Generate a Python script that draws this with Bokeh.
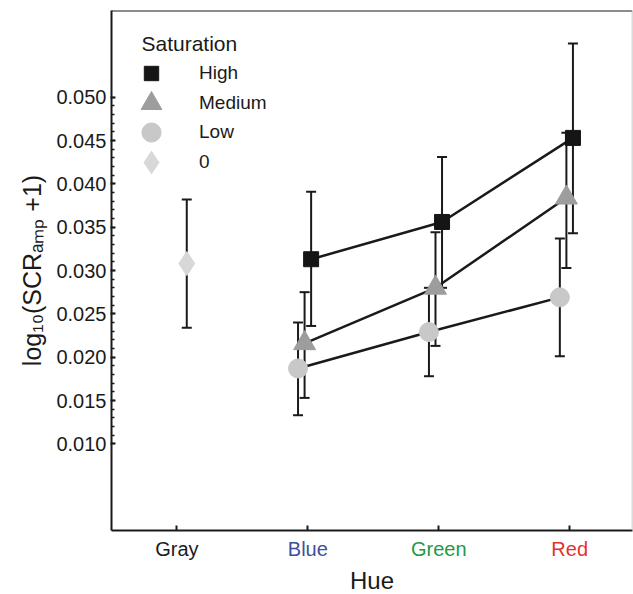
import math
from bokeh.plotting import figure
from bokeh.models import (ColumnDataSource, Whisker, TeeHead, FixedTicker, Legend, LegendItem,
                          Label, Span, NumeralTickFormatter, LinearAxis)
from bokeh.embed import file_html
from bokeh.resources import INLINE

# ---------------- data ----------------
hues = ["Gray", "Blue", "Green", "Red"]
hue_label_colors = ["#1b1b1b", "#3c4fa0", "#1e9a45", "#e3342a"]
chromatic_hues = ["Blue", "Green", "Red"]
gray_hues = ["Gray"]

high_mean = [0.0313, 0.0356, 0.0453]
high_lo = [0.0236, 0.0280, 0.0343]
high_hi = [0.0391, 0.0431, 0.0562]

medium_mean = [0.0216, 0.0280, 0.0384]
medium_lo = [0.0153, 0.0213, 0.0303]
medium_hi = [0.0275, 0.0344, 0.0459]

low_mean = [0.0187, 0.0229, 0.0269]
low_lo = [0.0133, 0.0178, 0.0201]
low_hi = [0.0240, 0.0280, 0.0337]

zero_mean = [0.0308]
zero_lo = [0.0234]
zero_hi = [0.0382]

y_tick_values = [0.010, 0.015, 0.020, 0.025, 0.030, 0.035, 0.040, 0.045, 0.050]
y_minor_values = [round(0.010 + 0.001 * i, 3) for i in range(41)]

y_title = "log\u2081\u2080(SCR\u2090\u2098\u209a +1)"
x_title = "Hue"

# ---------------- layout ----------------
FONT = "Liberation Sans"
INK = "#1a1a1a"
BL, BT, BR, BB = 111, 10, 1, 0
FW, FH = 521, 520
X0, X1 = -0.5, 3.48
Y0, Y1 = 0.0, 0.060
FL, FT = BL, BT
FB = FT + FH
TICK_FS = "20px"
LABEL_H = 25          # approximate measured height of a 20px label
LABEL_GAP = 7


def dx(px):
    return X0 + (px - FL) / FW * (X1 - X0)


def dy(py):
    return Y0 + (FB - py) / FH * (Y1 - Y0)


def sxu(px):  # screen units relative to frame left
    return px - FL


def syu(py):  # screen units relative to frame bottom, upwards
    return FB - py


p = figure(frame_width=FW, frame_height=FH, x_range=(X0, X1), y_range=(Y0, Y1),
           output_backend="svg", toolbar_location=None,
           min_border_left=BL, min_border_top=BT, min_border_right=BR, min_border_bottom=BB)
p.outline_line_color = None
p.xgrid.visible = False
p.ygrid.visible = False

# main x axis: rule, ticks and the first (black) category label
xa = p.xaxis[0]
xa.ticker = FixedTicker(ticks=list(range(len(hues))))
xa.major_label_overrides = {i: (h if i == 0 else "") for i, h in enumerate(hues)}
xa.major_label_text_font = FONT
xa.major_label_text_font_size = TICK_FS
xa.major_label_text_color = hue_label_colors[0]
xa.major_label_standoff = LABEL_GAP
xa.major_tick_in = 5
xa.major_tick_out = 0
xa.major_tick_line_width = 2
xa.major_tick_line_color = INK
xa.minor_tick_line_color = None
xa.axis_line_width = 2
xa.axis_line_color = INK

# the coloured category labels: extra axes pulled back up onto the same row
for i in range(1, len(hues)):
    last = i == len(hues) - 1
    ax = LinearAxis(ticker=FixedTicker(ticks=[i]), major_label_overrides={i: hues[i]},
                    axis_line_color=None, major_tick_line_color=None,
                    minor_tick_line_color=None, major_tick_out=0, major_tick_in=0,
                    major_label_standoff=-LABEL_H, major_label_text_font=FONT,
                    major_label_text_font_size=TICK_FS,
                    major_label_text_color=hue_label_colors[i])
    if last:
        ax.axis_label = x_title
        ax.axis_label_text_font = FONT
        ax.axis_label_text_font_style = "normal"
        ax.axis_label_text_font_size = "24px"
        ax.axis_label_text_color = INK
        ax.axis_label_standoff = 4
    p.add_layout(ax, "below")

ya = p.yaxis[0]
ya.ticker = FixedTicker(ticks=y_tick_values, minor_ticks=y_minor_values)
ya.formatter = NumeralTickFormatter(format="0.000")
ya.major_label_text_font = FONT
ya.major_label_text_font_size = "20px"
ya.major_label_text_color = INK
ya.major_label_standoff = 4
ya.major_tick_in = 4
ya.major_tick_out = 1
ya.major_tick_line_width = 2
ya.major_tick_line_color = INK
ya.minor_tick_in = 3
ya.minor_tick_out = 0
ya.minor_tick_line_width = 1.5
ya.minor_tick_line_color = INK
ya.axis_line_width = 2
ya.axis_line_color = INK
ya.axis_label = y_title
ya.axis_label_text_font = FONT
ya.axis_label_text_font_style = "normal"
ya.axis_label_text_font_size = "25px"
ya.axis_label_text_color = INK
ya.axis_label_standoff = 7

p.add_layout(Span(location=Y1, dimension="width", line_color=INK, line_width=2))
p.add_layout(Span(location=X1, dimension="height", line_color="#b8b8b8", line_width=1.5))

# ---------------- series ----------------
dodge = {"Low": -0.075, "Medium": -0.025, "High": 0.025, "0": 0.075}
series = [
    ("High", chromatic_hues, high_mean, high_lo, high_hi, "square", 15, "#151515"),
    ("Medium", chromatic_hues, medium_mean, medium_lo, medium_hi, "triangle", 22, "#9d9d9d"),
    ("Low", chromatic_hues, low_mean, low_lo, low_hi, "circle", 19, "#c8c8c8"),
    ("0", gray_hues, zero_mean, zero_lo, zero_hi, "diamond", 24, "#d8d8d8"),
]

sources = {}
for name, hl, m, lo, hi, mk, sz, col in series:
    xs = [hues.index(h) + dodge[name] for h in hl]
    src = ColumnDataSource(dict(x=xs, mean=m, lo=lo, hi=hi))
    sources[name] = src
    p.add_layout(Whisker(source=src, base="x", upper="hi", lower="lo", level="underlay",
                         line_width=2, line_color=INK,
                         upper_head=TeeHead(size=10, line_width=2, line_color=INK),
                         lower_head=TeeHead(size=10, line_width=2, line_color=INK)))

for name, hl, m, lo, hi, mk, sz, col in series:
    if len(hl) > 1:
        p.line("x", "mean", source=sources[name], line_width=2.5, line_color=INK)

renderers = {}
for name, hl, m, lo, hi, mk, sz, col in series:
    renderers[name] = p.scatter("x", "mean", source=sources[name], marker=mk, size=sz,
                                fill_color=col, line_color=col)

# ---------------- legend: one box per entry so each key keeps its own size ----------------
legend_rows = [("High", 73, 36), ("Medium", 102.5, 52), ("Low", 132, 48), ("0", 161.5, 56)]
for name, cy, g in legend_rows:
    lg = Legend(items=[LegendItem(label=name, renderers=[renderers[name]])],
                location=(sxu(151) - g / 2, syu(cy) - g / 2),
                glyph_width=g, glyph_height=g, label_height=g,
                spacing=0, padding=0, margin=0, label_standoff=int(199 - 151 - g / 2),
                border_line_color=None, background_fill_alpha=0,
                label_text_font=FONT, label_text_font_size="19px", label_text_color=INK)
    p.add_layout(lg)

p.add_layout(Label(x=dx(141), y=dy(43), text="Saturation", text_align="left",
                   text_baseline="middle", text_font=FONT, text_font_size="21px",
                   text_color=INK))

open("out.html", "w").write(file_html(p, INLINE))
